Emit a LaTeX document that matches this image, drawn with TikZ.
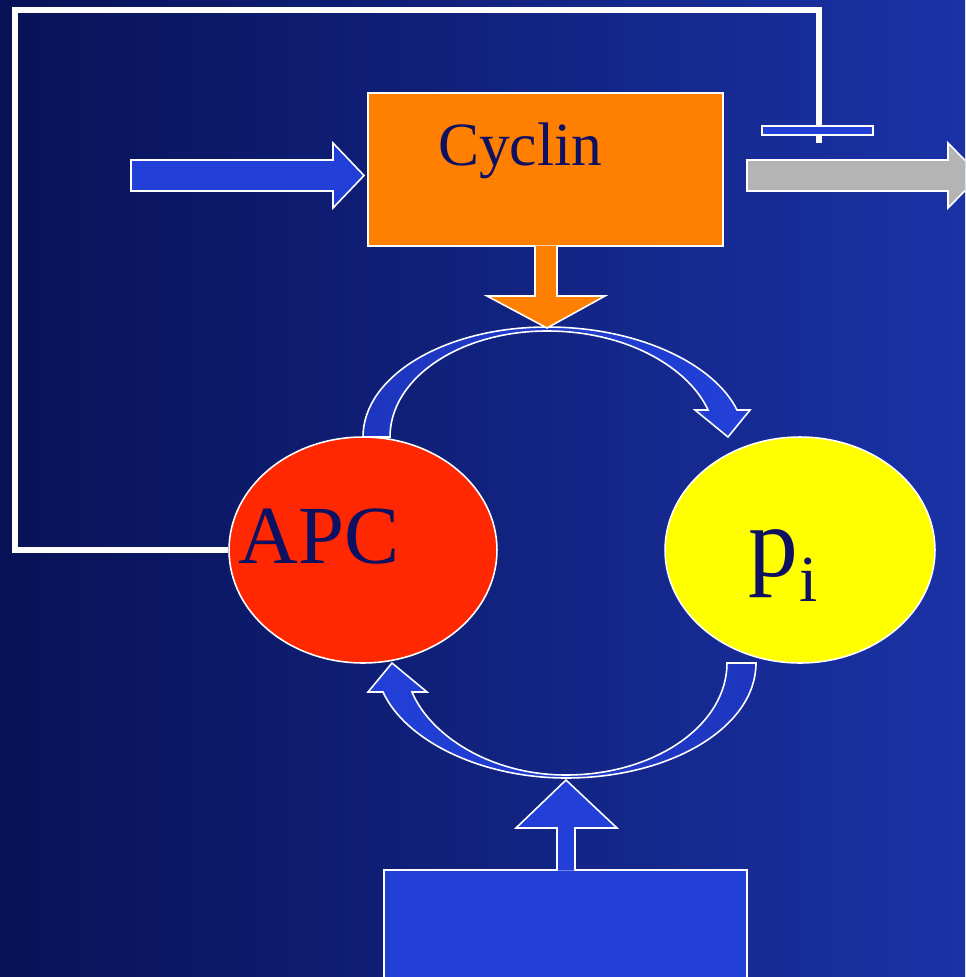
\documentclass[tikz,border=0pt]{standalone}
\usepackage{fontspec}
\setmainfont{Liberation Serif}
\usetikzlibrary{shapes.geometric}

\definecolor{bgleft}{RGB}{8,18,86}
\definecolor{bgright}{RGB}{26,50,166}
\definecolor{arrowblue}{RGB}{34,64,216}
\definecolor{arcdark}{RGB}{30,54,190}
\definecolor{cyclinorange}{RGB}{255,127,0}
\definecolor{apcred}{RGB}{255,40,0}
\definecolor{piyellow}{RGB}{255,255,0}
\definecolor{outgray}{RGB}{180,180,180}
\definecolor{labelnavy}{RGB}{14,16,98}

\begin{document}
\begin{tikzpicture}[x=0.02cm,y=-0.02cm,
  rim/.style={draw=white,line width=0.9pt},
  blockblue/.style={rim,fill=arrowblue},
  lbl/.style={text=labelnavy,inner sep=0pt},
  feedback/.style={draw=white,line width=3.1pt}]
\useasboundingbox (0,0) rectangle (965,977);
\clip (0,0) rectangle (965,977);
\shade[left color=bgleft,right color=bgright] (0,0) rectangle (965,977);

% curved arrows of the cycle
\path[rim,left color=arcdark,right color=arrowblue]
  (363,437) .. controls (363,376) and (445,327) .. (547,327)
  .. controls (640,327) and (715,365) .. (737,410)
  -- (750,410) -- (728,437) -- (695,410) -- (708,410)
  .. controls (690,370) and (630,331) .. (547,331)
  .. controls (460,331) and (390,378) .. (390,437) -- cycle;
\path[rim,left color=arrowblue,right color=arcdark]
  (756,663) .. controls (756,727) and (671,778) .. (566,778)
  .. controls (480,778) and (405,740) .. (383,692)
  -- (368,692) -- (392,663) -- (427,692) -- (412,692)
  .. controls (430,735) and (490,775) .. (566,775)
  .. controls (655,775) and (727,725) .. (727,663) -- cycle;

\node[rim,ellipse,fill=apcred,minimum width=5.36cm,minimum height=4.52cm] (apc) at (363,550) {};
\node[rim,ellipse,fill=piyellow,minimum width=5.4cm,minimum height=4.52cm] (pi) at (800,550) {};

\coordinate (blockend) at (819,143);
\draw[feedback] (apc.west) -| (15,10) -| (blockend);
\node[blockblue,minimum width=2.22cm,minimum height=0.18cm,inner sep=0pt] (bar) at (817.5,130.5) {};

\node[rim,fill=cyclinorange,minimum width=7.1cm,minimum height=3.06cm] (cyclin) at (545.5,169.5) {};
\node[blockblue,minimum width=7.26cm,minimum height=2.8cm] (source) at (565.5,940) {};

\filldraw[rim,fill=cyclinorange] (535,245.5) -- (535,296) -- (487,296) -- (547,328)
  -- (605,296) -- (557,296) -- (557,245.5);
\filldraw[blockblue] (557,870.5) -- (557,828) -- (516,828) -- (566,780)
  -- (617,828) -- (575,828) -- (575,870.5);
\filldraw[blockblue] (131,160) -- (333,160) -- (333,143) -- (364,175.5)
  -- (333,208) -- (333,191) -- (131,191) -- cycle;
\filldraw[rim,fill=outgray] (747,160) -- (948,160) -- (948,143) -- (980,175.5)
  -- (948,208) -- (948,191) -- (747,191) -- cycle;

\node[lbl,anchor=base,font=\fontsize{35pt}{40pt}\selectfont] (cyclintext) at (520,165) {Cyclin};
\node[lbl,anchor=base,font=\fontsize{47pt}{52pt}\selectfont] (apctext) at (319,563) {APC};
\node[lbl,anchor=base west,font=\fontsize{56.7pt}{60pt}\selectfont] (pitext) at (748,576)
  {p\kern1pt\raisebox{-14.7pt}{\fontsize{37.4pt}{40pt}\selectfont i}};
\end{tikzpicture}
\end{document}
